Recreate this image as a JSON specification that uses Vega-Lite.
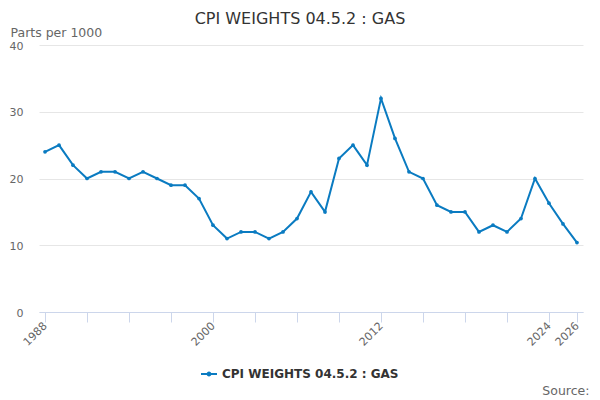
{
  "$schema": "https://vega.github.io/schema/vega-lite/v6.json",
  "autosize": "none",
  "width": 544,
  "height": 267,
  "padding": {"left": 39, "top": 45, "right": 17, "bottom": 88},
  "background": "white",
  "config": {
    "font": "DejaVu Sans",
    "view": {"stroke": null}
  },
  "title": {
    "text": "CPI WEIGHTS 04.5.2 : GAS",
    "fontSize": 16,
    "fontWeight": "normal",
    "color": "#333333",
    "anchor": "middle",
    "frame": "group",
    "dx": -11,
    "offset": -1
  },
  "data": {
    "values": [
      {"year": 1988, "value": 24},
      {"year": 1989, "value": 25},
      {"year": 1990, "value": 22},
      {"year": 1991, "value": 20},
      {"year": 1992, "value": 21},
      {"year": 1993, "value": 21},
      {"year": 1994, "value": 20},
      {"year": 1995, "value": 21},
      {"year": 1996, "value": 20},
      {"year": 1997, "value": 19},
      {"year": 1998, "value": 19},
      {"year": 1999, "value": 17},
      {"year": 2000, "value": 13},
      {"year": 2001, "value": 11},
      {"year": 2002, "value": 12},
      {"year": 2003, "value": 12},
      {"year": 2004, "value": 11},
      {"year": 2005, "value": 12},
      {"year": 2006, "value": 14},
      {"year": 2007, "value": 18},
      {"year": 2008, "value": 15},
      {"year": 2009, "value": 23},
      {"year": 2010, "value": 25},
      {"year": 2011, "value": 22},
      {"year": 2012, "value": 32},
      {"year": 2013, "value": 26},
      {"year": 2014, "value": 21},
      {"year": 2015, "value": 20},
      {"year": 2016, "value": 16},
      {"year": 2017, "value": 15},
      {"year": 2018, "value": 15},
      {"year": 2019, "value": 12},
      {"year": 2020, "value": 13},
      {"year": 2021, "value": 12},
      {"year": 2022, "value": 14},
      {"year": 2023, "value": 20},
      {"year": 2024, "value": 16.3},
      {"year": 2025, "value": 13.2},
      {"year": 2026, "value": 10.4}
    ]
  },
  "mark": {
    "type": "line",
    "strokeWidth": 2,
    "point": {"filled": true, "size": 14}
  },
  "encoding": {
    "x": {
      "field": "year",
      "type": "quantitative",
      "scale": {"domain": [1987.57, 2026.43], "nice": false, "zero": false},
      "axis": {
        "values": [1988, 1991, 1994, 1997, 2000, 2003, 2006, 2009, 2012, 2015, 2018, 2021, 2024, 2026],
        "labelExpr": "indexof([1988, 2000, 2012, 2024, 2026], datum.value) >= 0 ? datum.value : ''",
        "format": "d",
        "grid": false,
        "domainColor": "#ccd6eb",
        "tickColor": "#ccd6eb",
        "tickSize": 10,
        "labelAngle": -45,
        "labelAlign": "right",
        "labelBaseline": "middle",
        "labelPadding": 2,
        "labelFontSize": 11,
        "labelColor": "#666666",
        "labelOverlap": false,
        "title": "Source:",
        "titleFontSize": 12.5,
        "titleFontWeight": "normal",
        "titleColor": "#666666",
        "titleAlign": "right",
        "titleBaseline": "middle",
        "titleX": 550,
        "titleY": 78
      }
    },
    "y": {
      "field": "value",
      "type": "quantitative",
      "scale": {"domain": [0, 40], "nice": false},
      "axis": {
        "values": [0, 10, 20, 30, 40],
        "domain": false,
        "ticks": false,
        "gridColor": "#e6e6e6",
        "labelPadding": 16,
        "labelFontSize": 11,
        "labelColor": "#666666",
        "labelBaseline": "middle",
        "labelOffset": 1,
        "title": "Parts per 1000",
        "titleAngle": 0,
        "titleAlign": "left",
        "titleBaseline": "middle",
        "titleFontSize": 12.5,
        "titleFontWeight": "normal",
        "titleColor": "#666666",
        "titleX": -29,
        "titleY": -13
      }
    },
    "color": {
      "datum": "CPI WEIGHTS 04.5.2 : GAS",
      "type": "nominal",
      "scale": {"range": ["#0a7bc1"]},
      "legend": {
        "title": null,
        "orient": "none",
        "legendX": 162,
        "legendY": 321,
        "symbolType": "M-1,-0.12H1V0.12H-1Z M-0.3,0A0.3,0.3 0 1,1 0.3,0A0.3,0.3 0 1,1 -0.3,0Z",
        "symbolSize": 256,
        "symbolStrokeWidth": 0,
        "labelFontSize": 12,
        "labelFontWeight": "bold",
        "labelColor": "#333333",
        "labelLimit": 400,
        "labelOffset": 5
      }
    }
  }
}
